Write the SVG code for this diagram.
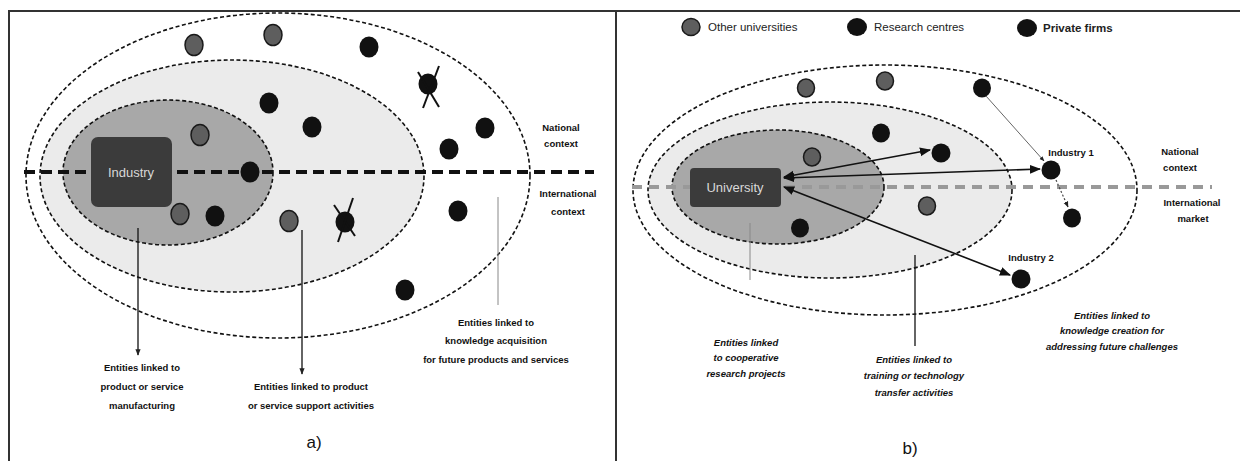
<svg xmlns="http://www.w3.org/2000/svg" width="1240" height="461" viewBox="0 0 1240 461">
<defs>
<style>
.frame{stroke:#333;stroke-width:2;fill:none}
.ell{stroke:#111;stroke-width:1.6;stroke-dasharray:4 2.5}
.outer{fill:#fff}
.mid{fill:#ebebeb}
.inner{fill:#a8a8a8}
.gdot{fill:#5e5e5e;stroke:#1a1a1a;stroke-width:1.5}
.bdot{fill:#111}
.box{fill:#3b3b3b}
.boxt{font-family:"Liberation Sans",Arial,sans-serif;font-size:13px;fill:#d8d8d8;text-anchor:middle}
.lbl{font-family:"Liberation Sans",Arial,sans-serif;font-size:9.5px;font-weight:bold;fill:#111;text-anchor:middle}
.lbli{font-family:"Liberation Sans",Arial,sans-serif;font-size:9.5px;font-weight:bold;font-style:italic;fill:#111;text-anchor:middle}
.leg{font-family:"Liberation Sans",Arial,sans-serif;font-size:11.5px;fill:#222}
.cap{font-family:"Liberation Sans",Arial,sans-serif;font-size:17px;fill:#111;text-anchor:middle}
.ln{stroke:#111;stroke-width:1.3;fill:none}
.thin{stroke:#888;stroke-width:1;fill:none}
.arr{stroke:#111;stroke-width:1.6;fill:none}
</style>
<marker id="ah" viewBox="0 0 10 10" refX="9" refY="5" markerWidth="7" markerHeight="7" orient="auto-start-reverse">
<path d="M0,1 L10,5 L0,9 z" fill="#111"/>
</marker>
<marker id="ahs" viewBox="0 0 10 10" refX="9" refY="5" markerWidth="5" markerHeight="5" orient="auto-start-reverse">
<path d="M0,1 L10,5 L0,9 z" fill="#222"/>
</marker>
</defs>
<rect width="1240" height="461" fill="#fff"/>
<g id="frame">
<line class="frame" x1="8" y1="11" x2="1240" y2="11"/>
<line class="frame" x1="9" y1="11" x2="9" y2="461"/>
<line class="frame" x1="616" y1="11" x2="616" y2="461"/>
</g>

<!-- Panel a -->
<g id="a-contexts">
<ellipse class="ell outer" cx="278" cy="175.5" rx="252" ry="162.5"/>
<ellipse class="ell mid" cx="232" cy="176" rx="192" ry="116"/>
<ellipse class="ell inner" cx="168" cy="172.5" rx="105" ry="72.5"/>
<line x1="24" y1="172" x2="594" y2="172" stroke="#111" stroke-width="4" stroke-dasharray="11 6"/>
<text class="lbl" x="561" y="131">National</text>
<text class="lbl" x="561" y="147">context</text>
<text class="lbl" x="568" y="197">International</text>
<text class="lbl" x="568" y="215">context</text>
</g>
<g id="a-industry">
<rect class="box" x="91" y="137" width="81" height="70" rx="7"/>
<text class="boxt" x="131" y="177">Industry</text>
</g>
<g id="a-entities">
<ellipse class="gdot" cx="194" cy="45" rx="9" ry="10.5"/>
<ellipse class="gdot" cx="273" cy="35" rx="9" ry="10.5"/>
<ellipse class="bdot" cx="369" cy="47" rx="9.5" ry="10.5"/>
<ellipse class="bdot" cx="269" cy="103" rx="9.5" ry="10.5"/>
<ellipse class="bdot" cx="312" cy="127" rx="9.5" ry="10.5"/>
<ellipse class="bdot" cx="485" cy="128" rx="9.5" ry="10.5"/>
<ellipse class="bdot" cx="449" cy="149" rx="9.5" ry="10.5"/>
<ellipse class="gdot" cx="200" cy="135" rx="9" ry="10.5"/>
<ellipse class="bdot" cx="250" cy="172" rx="9.5" ry="10.5"/>
<ellipse class="gdot" cx="180" cy="214" rx="9" ry="10.5"/>
<ellipse class="bdot" cx="215" cy="216" rx="9.5" ry="10.5"/>
<ellipse class="gdot" cx="289" cy="221" rx="9" ry="10.5"/>
<ellipse class="bdot" cx="458" cy="211" rx="9.5" ry="10.5"/>
<ellipse class="bdot" cx="405" cy="290" rx="9.5" ry="10.5"/>
</g>
<g id="a-exited-1">
<ellipse class="bdot" cx="428" cy="84" rx="9.5" ry="10.5"/>
<line x1="418" y1="72" x2="439" y2="107" stroke="#111" stroke-width="2"/>
<line x1="439" y1="66" x2="423" y2="108" stroke="#111" stroke-width="2"/>
</g>
<g id="a-exited-2">
<ellipse class="bdot" cx="345" cy="222" rx="9.5" ry="10.5"/>
<line x1="334" y1="205" x2="355" y2="236" stroke="#111" stroke-width="2"/>
<line x1="353" y1="198" x2="338" y2="242" stroke="#111" stroke-width="2"/>
</g>
<g id="a-connectors">
<line class="ln" x1="138" y1="228" x2="138" y2="355" marker-end="url(#ahs)"/>
<line class="ln" x1="302" y1="230" x2="302" y2="374" marker-end="url(#ahs)"/>
<line class="thin" x1="498" y1="197" x2="498" y2="305"/>
</g>
<g id="a-labels">
<text class="lbl" x="142" y="371">Entities linked to</text>
<text class="lbl" x="142" y="390">product or service</text>
<text class="lbl" x="142" y="409">manufacturing</text>
<text class="lbl" x="311" y="390">Entities linked to product</text>
<text class="lbl" x="311" y="409">or service support activities</text>
<text class="lbl" x="496" y="326">Entities linked to</text>
<text class="lbl" x="496" y="344">knowledge acquisition</text>
<text class="lbl" x="496" y="363">for future products and services</text>
<text class="cap" x="314" y="448">a)</text>
</g>

<!-- Panel b -->
<g id="legend">
<ellipse class="gdot" cx="691" cy="27" rx="9" ry="8.5"/>
<text class="leg" x="708" y="31">Other universities</text>
<ellipse class="bdot" cx="857" cy="27" rx="10" ry="9"/>
<text class="leg" x="874" y="31">Research centres</text>
<ellipse class="bdot" cx="1027" cy="28" rx="10" ry="9"/>
<text class="leg" x="1043" y="32" font-weight="bold">Private firms</text>
</g>
<g id="b-contexts">
<ellipse class="ell outer" cx="885" cy="190" rx="252" ry="125"/>
<ellipse class="ell mid" cx="830" cy="190" rx="182" ry="88"/>
<ellipse class="ell inner" cx="778" cy="187" rx="106" ry="57"/>
<line x1="632" y1="187" x2="1212" y2="187" stroke="#999" stroke-width="4" stroke-dasharray="10 7"/>
<text class="lbl" x="1180" y="155">National</text>
<text class="lbl" x="1180" y="171">context</text>
<text class="lbl" x="1192" y="206">International</text>
<text class="lbl" x="1193" y="222">market</text>
</g>
<g id="b-university">
<rect class="box" x="690" y="168" width="91" height="39" rx="4"/>
<text class="boxt" x="735" y="192" font-size="12">University</text>
</g>
<g id="b-entities">
<ellipse class="gdot" cx="806" cy="88" rx="8.5" ry="9"/>
<ellipse class="gdot" cx="885" cy="81" rx="8.5" ry="9"/>
<ellipse class="bdot" cx="982" cy="88" rx="9" ry="9.5"/>
<ellipse class="bdot" cx="881" cy="133" rx="9" ry="9.5"/>
<ellipse class="gdot" cx="812" cy="157" rx="8.5" ry="9"/>
<ellipse class="bdot" cx="941" cy="153" rx="9.5" ry="9.5"/>
<ellipse class="gdot" cx="927" cy="206" rx="8.5" ry="9"/>
<ellipse class="bdot" cx="1072" cy="218" rx="9" ry="9.5"/>
<ellipse class="bdot" cx="800" cy="228" rx="9" ry="9.5"/>
</g>
<g id="b-industry1">
<ellipse class="bdot" cx="1051" cy="170" rx="9.5" ry="9.5"/>
<text class="lbl" x="1071" y="156">Industry 1</text>
</g>
<g id="b-industry2">
<ellipse class="bdot" cx="1021" cy="279" rx="9.5" ry="9.5"/>
<text class="lbl" x="1031" y="261" font-weight="normal">Industry 2</text>
</g>
<g id="b-connectors">
<line class="arr" x1="784" y1="177" x2="930" y2="150" marker-start="url(#ah)" marker-end="url(#ah)"/>
<line class="arr" x1="784" y1="178" x2="1040" y2="169" marker-start="url(#ah)" marker-end="url(#ah)"/>
<line class="arr" x1="784" y1="187" x2="1010" y2="275" marker-start="url(#ah)" marker-end="url(#ah)"/>
<line x1="986" y1="96" x2="1044" y2="161" stroke="#666" stroke-width="1" marker-end="url(#ahs)"/>
<line x1="1056" y1="180" x2="1068" y2="207" stroke="#444" stroke-width="1.2" stroke-dasharray="2 2" marker-end="url(#ahs)"/>
<line class="thin" x1="750" y1="223" x2="750" y2="280"/>
<line class="ln" x1="915" y1="255" x2="915" y2="346"/>
</g>
<g id="b-labels">
<text class="lbli" x="746" y="346">Entities linked</text>
<text class="lbli" x="746" y="361">to cooperative</text>
<text class="lbli" x="746" y="377">research projects</text>
<text class="lbli" x="914" y="363">Entities linked to</text>
<text class="lbli" x="914" y="379">training or technology</text>
<text class="lbli" x="914" y="396">transfer activities</text>
<text class="lbli" x="1112" y="319">Entities linked to</text>
<text class="lbli" x="1112" y="334">knowledge creation for</text>
<text class="lbli" x="1112" y="350">addressing future challenges</text>
<text class="cap" x="910" y="454">b)</text>
</g>
</svg>
